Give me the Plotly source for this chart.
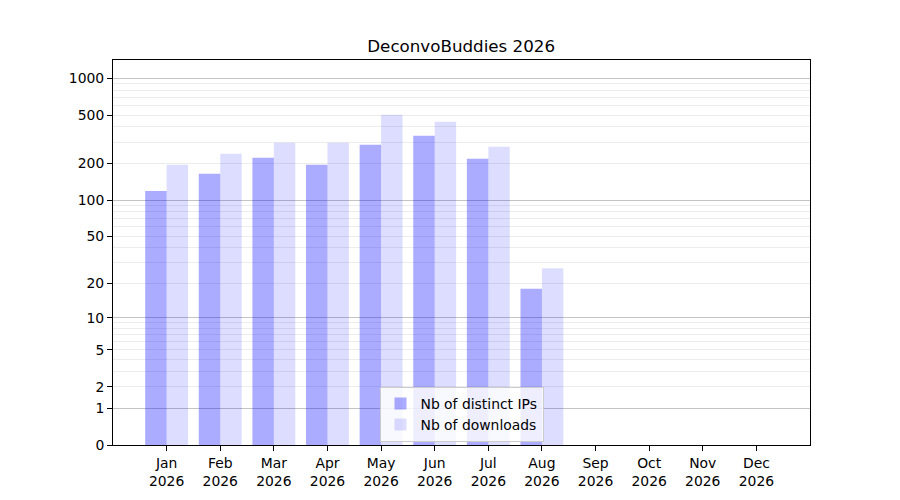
import math
import plotly.graph_objects as go

months = ["Jan", "Feb", "Mar", "Apr", "May", "Jun", "Jul", "Aug", "Sep", "Oct", "Nov", "Dec"]
year = "2026"
distinct_ips = [119, 165, 223, 196, 286, 339, 219, 18, None, None, None, None]
downloads = [196, 241, 297, 297, 504, 441, 275, 27, None, None, None, None]

major_ticks = [0, 1, 2, 5, 10, 20, 50, 100, 200, 500, 1000]
decade_lines = [1, 10, 100, 1000]
minor_lines = [m * d for d in (1, 10, 100) for m in range(2, 10)]


def tf(v):
    return None if v is None else math.log10(1 + v)


x_labels = [f"{m}<br>{year}" for m in months]
FONT = "DejaVu Sans"

fig = go.Figure()
fig.add_trace(go.Bar(
    x=x_labels, y=[tf(v) for v in distinct_ips], name="Nb of distinct IPs",
    marker=dict(color="rgba(0,0,255,0.33)", line=dict(width=0)),
    customdata=distinct_ips, hovertemplate="%{customdata}<extra></extra>",
))
fig.add_trace(go.Bar(
    x=x_labels, y=[tf(v) for v in downloads], name="Nb of downloads",
    marker=dict(color="rgba(0,0,255,0.135)", line=dict(width=0)),
    customdata=downloads, hovertemplate="%{customdata}<extra></extra>",
))
# helper trace so that the overlaid grid axis (decade lines) is drawn
fig.add_trace(go.Scatter(x=[x_labels[0]], y=[None], yaxis="y2", mode="markers",
                         showlegend=False, hoverinfo="skip"))

top = 3.151

fig.update_layout(
    width=900, height=500,
    margin=dict(l=105, r=98, t=52, b=63),
    paper_bgcolor="white", plot_bgcolor="white",
    font=dict(family=FONT, size=13.9, color="black"),
    barmode="group", bargap=0.2, bargroupgap=0,
    title=dict(text="DeconvoBuddies 2026", x=0.5035, xanchor="center",
               y=1 - 38 / 500, yanchor="middle", yref="container",
               font=dict(family=FONT, size=16.7, color="black")),
    legend=dict(x=0.5, xanchor="center", y=0.008, yanchor="bottom",
                bgcolor="rgba(255,255,255,0.8)", bordercolor="#cccccc", borderwidth=1,
                font=dict(family=FONT, size=13.9, color="black"),
                traceorder="normal", itemwidth=30),
    showlegend=True,
    yaxis2=dict(overlaying="y", side="left", range=[0, top], tickmode="array",
                tickvals=[tf(t) for t in decade_lines], showticklabels=False,
                ticks="", showline=False, zeroline=False,
                showgrid=True, gridcolor="#c4c4c4", gridwidth=1),
)
fig.update_xaxes(
    type="category", range=[-1, 12],
    showline=True, linecolor="black", linewidth=1, mirror=True,
    ticks="outside", ticklen=5, tickcolor="black", showgrid=False,
    tickfont=dict(family=FONT, size=13.9, color="black"),
)
fig.update_layout(yaxis=dict(
    range=[0, top], tickmode="array",
    tickvals=[tf(t) for t in major_ticks], ticktext=[str(t) for t in major_ticks],
    showline=True, linecolor="black", linewidth=1, mirror=True,
    ticks="outside", ticklen=5, tickcolor="black",
    showgrid=True, gridcolor="#ececec", gridwidth=1, zeroline=False,
    minor=dict(tickmode="array", tickvals=[tf(t) for t in minor_lines],
               showgrid=True, gridcolor="#ececec", gridwidth=1, ticks=""),
    tickfont=dict(family=FONT, size=13.9, color="black"),
))

fig.write_html("out.html")
